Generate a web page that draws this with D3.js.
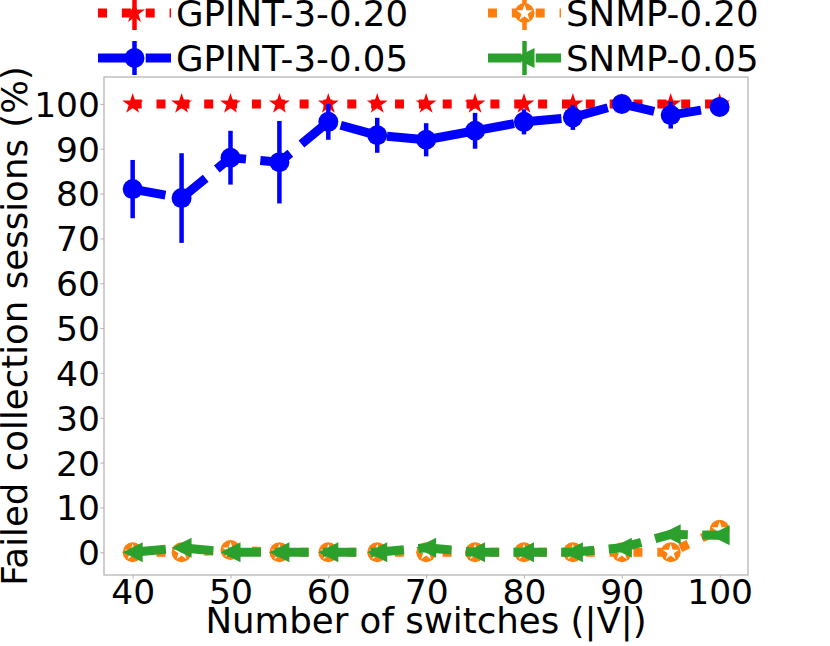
<!DOCTYPE html>
<html>
<head>
<meta charset="utf-8">
<script src="https://cdn.jsdelivr.net/npm/d3@7"></script>
<style>
  body { margin: 0; background: white; }
  text { font-family: "DejaVu Sans", sans-serif; fill: black; }
</style>
</head>
<body>
<div id="root"></div>
<script>
const switches = [40, 45, 50, 55, 60, 65, 70, 75, 80, 85, 90, 95, 100];
const gpint020 = [100, 100, 100, 100, 100, 100, 100, 100, 100, 100, 100, 100, 100];
const gpint020Err = [0, 0, 0, 0, 0, 0, 0, 0, 0, 0, 0, 0, 0];
const gpint005 = [81, 79, 88, 87, 96, 93, 92, 94, 96, 97, 100, 97.5, 99.3];
const gpint005Err = [6.5, 10, 6, 9.2, 4, 3.9, 3.7, 4, 2.8, 2.8, 0.5, 3, 1];
const snmp020 = [0, 0, 0.5, 0, 0, 0, 0, 0, 0, 0, 0, 0, 5];
const snmp020Err = [0, 0, 0, 0, 0, 0, 0, 0, 0, 0, 0, 0, 0];
const snmp005 = [0, 1, 0, 0, 0, 0, 1, 0, 0, 0, 1, 4, 3.8];
const snmp005Err = [0, 0, 0, 0, 0, 0, 0, 0, 0, 0, 0, 0, 0];
const xTicks = [40, 50, 60, 70, 80, 90, 100];
const yTicks = [0, 10, 20, 30, 40, 50, 60, 70, 80, 90, 100];

const series = [
  { name: "GPINT-3-0.20", values: gpint020, err: gpint020Err, color: "#ff0000", dash: "9,14.85", marker: "star" },
  { name: "GPINT-3-0.05", values: gpint005, err: gpint005Err, color: "#0000ff", dash: "33.3,14.4", marker: "circle" },
  { name: "SNMP-0.20", values: snmp020, err: snmp020Err, color: "#ff7f0e", dash: "9,14.85", marker: "circlestar" },
  { name: "SNMP-0.05", values: snmp005, err: snmp005Err, color: "#2ca02c", dash: "33.3,14.4", marker: "triangle" }
];

const CONFIG = {
  width: 830,
  height: 646,
  plot: { left: 104, right: 748, top: 77, bottom: 575 },
  lineWidth: 9,
  errWidth: 4.5,
  markerSize: 20,
  spine: "#b0b0b0",
  tickFont: 34.5,
  labelFont: 35.6,
  legendFont: 35.6
};

function starPath(r) {
  const inner = r * 0.381966;
  const pts = [];
  for (let i = 0; i < 10; i++) {
    const rr = i % 2 === 0 ? r : inner;
    const a = -Math.PI / 2 + i * Math.PI / 5;
    pts.push([rr * Math.cos(a), rr * Math.sin(a)]);
  }
  return "M" + pts.map(p => p.join(",")).join("L") + "Z";
}

function drawMarker(g, type, color, cx, cy) {
  const s = CONFIG.markerSize / 2;
  if (type === "star") {
    g.append("path").attr("d", starPath(s + 1)).attr("transform", `translate(${cx},${cy})`).attr("fill", color);
  } else if (type === "circle") {
    g.append("circle").attr("cx", cx).attr("cy", cy).attr("r", s).attr("fill", color);
  } else if (type === "circlestar") {
    g.append("circle").attr("cx", cx).attr("cy", cy).attr("r", s).attr("fill", color);
    g.append("path").attr("d", starPath(s - 1.5)).attr("transform", `translate(${cx},${cy})`).attr("fill", "white");
  } else if (type === "triangle") {
    g.append("path")
      .attr("d", `M${-s},0L${s},${-s}L${s},${s}Z`)
      .attr("transform", `translate(${cx},${cy})`)
      .attr("fill", color);
  }
}

function createChart() {
  const svg = d3.select("#root").append("svg")
    .attr("width", CONFIG.width)
    .attr("height", CONFIG.height);

  const p = CONFIG.plot;
  const xScale = d3.scaleLinear().domain([37.07, 102.9]).range([p.left, p.right]);
  const yScale = d3.scaleLinear().domain([-5.07, 106]).range([p.bottom, p.top]);

  // frame
  svg.append("rect")
    .attr("x", p.left).attr("y", p.top)
    .attr("width", p.right - p.left).attr("height", p.bottom - p.top)
    .attr("fill", "none").attr("stroke", CONFIG.spine).attr("stroke-width", 1.2);

  const xAxis = d3.axisBottom(xScale).tickValues(xTicks).tickSize(3.5).tickPadding(4);
  const yAxis = d3.axisLeft(yScale).tickValues(yTicks).tickSize(3.5).tickPadding(4);

  const gx = svg.append("g").attr("transform", `translate(0,${p.bottom})`).call(xAxis);
  const gy = svg.append("g").attr("transform", `translate(${p.left},0)`).call(yAxis);
  [gx, gy].forEach(g => {
    g.select(".domain").remove();
    g.selectAll(".tick line").attr("stroke", CONFIG.spine);
    g.selectAll(".tick text").style("font-size", CONFIG.tickFont + "px").attr("fill", "black");
  });
  gx.selectAll(".tick text").attr("dy", "0.71em").attr("y", 4);
  gy.selectAll(".tick text").attr("dy", "0.36em").attr("x", -4);

  svg.append("text")
    .text("Number of switches (|V|)")
    .attr("x", (p.left + p.right) / 2)
    .attr("y", 633)
    .attr("text-anchor", "middle")
    .style("font-size", CONFIG.labelFont + "px");

  svg.append("text")
    .text("Failed collection sessions (%)")
    .attr("transform", `translate(27,${(p.top + p.bottom) / 2}) rotate(-90)`)
    .attr("text-anchor", "middle")
    .style("font-size", CONFIG.labelFont + "px");

  // series
  const line = d3.line().x((d, i) => xScale(switches[i])).y(d => yScale(d));
  series.forEach(s => {
    const g = svg.append("g");
    g.selectAll("line.err")
      .data(s.values)
      .enter().append("line")
      .attr("x1", (d, i) => xScale(switches[i]))
      .attr("x2", (d, i) => xScale(switches[i]))
      .attr("y1", (d, i) => yScale(d - s.err[i]))
      .attr("y2", (d, i) => yScale(d + s.err[i]))
      .attr("stroke", s.color)
      .attr("stroke-width", CONFIG.errWidth);
    g.append("path")
      .attr("d", line(s.values))
      .attr("fill", "none")
      .attr("stroke", s.color)
      .attr("stroke-width", CONFIG.lineWidth)
      .attr("stroke-dasharray", s.dash)
      .attr("stroke-linejoin", "round");
    s.values.forEach((d, i) => drawMarker(g, s.marker, s.color, xScale(switches[i]), yScale(d)));
  });

  legendElement(svg);
}

function legendElement(svg) {
  const cols = [{ x0: 98, x1: 171, tx: 176 }, { x0: 488, x1: 561, tx: 566 }];
  const rows = [13, 58];
  series.forEach((s, i) => {
    const c = cols[Math.floor(i / 2)];
    const cy = rows[i % 2];
    const cx = (c.x0 + c.x1) / 2;
    const g = svg.append("g").attr("class", "legend-item");
    g.append("line")
      .attr("x1", cx).attr("x2", cx)
      .attr("y1", cy - 17).attr("y2", cy + 17)
      .attr("stroke", s.color).attr("stroke-width", CONFIG.errWidth);
    g.append("line")
      .attr("x1", c.x0).attr("x2", c.x1)
      .attr("y1", cy).attr("y2", cy)
      .attr("stroke", s.color)
      .attr("stroke-width", CONFIG.lineWidth)
      .attr("stroke-dasharray", s.dash);
    drawMarker(g, s.marker, s.color, cx, cy);
    g.append("text")
      .text(s.name)
      .attr("x", c.tx)
      .attr("y", cy + 13)
      .style("font-size", CONFIG.legendFont + "px");
  });
}

createChart();
</script>
</body>
</html>
